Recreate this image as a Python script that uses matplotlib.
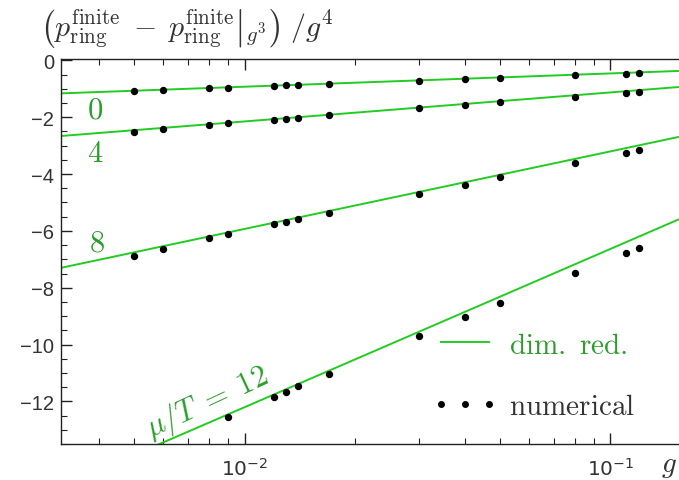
import numpy as np
import matplotlib
matplotlib.use("Agg")
import matplotlib.pyplot as plt
from matplotlib.lines import Line2D
from matplotlib.ticker import MultipleLocator, LogLocator, NullFormatter

plt.rcParams['font.family'] = ['Liberation Sans', 'DejaVu Sans']
plt.rcParams['mathtext.fontset'] = 'cm'

# ---- data ----
g = [0.005, 0.006, 0.008, 0.009, 0.012, 0.013, 0.014, 0.017,
     0.03, 0.04, 0.05, 0.08, 0.11, 0.12]
num_0 = [-1.087, -1.04, -0.98, -0.96, -0.89, -0.875, -0.864, -0.83,
         -0.71, -0.665, -0.62, -0.52, -0.465, -0.45]
num_4 = [-2.51, -2.40, -2.275, -2.215, -2.09, -2.05, -2.02, -1.93,
         -1.69, -1.56, -1.46, -1.28, -1.146, -1.10]
num_8 = [-6.87, -6.62, -6.26, -6.11, -5.77, -5.67, -5.59, -5.355,
         -4.70, -4.37, -4.12, -3.62, -3.27, -3.17]
g_12 = [0.009, 0.012, 0.013, 0.014, 0.017, 0.03, 0.04, 0.05, 0.08, 0.11, 0.12]
num_12 = [-12.55, -11.85, -11.66, -11.47, -11.02, -9.69, -9.04, -8.52,
          -7.49, -6.79, -6.61]

# dimensional-reduction curves (straight in log g), values at the plot edges
line_g = [0.00315, 0.154]
dr_0 = [-1.16, -0.37]
dr_4 = [-2.66, -0.935]
dr_8 = [-7.30, -2.69]
dr_12 = [-15.0, -5.59]

labels = [r'$0$', r'$4$', r'$8$', r'$\mu/T\;=\;12$']
label_pos_g = [0.0039, 0.0039, 0.00396, 0.0079]
label_pos_y = [-1.73, -3.25, -6.40, -12.0]
label_rot = [0, 0, 0, 25]

line_col = '#22cc22'
text_col = '#2a9d2a'
axis_col = '#222222'

fig = plt.figure(figsize=(6.79, 4.81), dpi=100)
ax = fig.add_axes([61/679, 1-445/481, 1-61/679, (445-60)/481])

for dr in (dr_0, dr_4, dr_8, dr_12):
    ax.plot(line_g, dr, color=line_col, lw=1.4, solid_capstyle='butt', zorder=2)
for yy in (num_0, num_4, num_8):
    ax.plot(g, yy, ls='none', marker='o', ms=4.3, color='black', zorder=3)
ax.plot(g_12, num_12, ls='none', marker='o', ms=4.3, color='black', zorder=3)

ax.set_xscale('log')
ax.set_xlim(0.00315, 0.154)
ax.set_ylim(-13.5, 0.05)

for lab, xg, yv, rot in zip(labels, label_pos_g, label_pos_y, label_rot):
    ax.text(xg, yv, lab, color=text_col, fontsize=22, ha='center', va='center',
            rotation=rot, rotation_mode='anchor')

# ticks
ax.set_xticks([0.01, 0.1])
ax.set_xticklabels([r'$10^{-2}$', r'$10^{-1}$'])
for t in ax.get_xticklabels():
    t.set_math_fontfamily('dejavusans')
ax.xaxis.set_minor_locator(LogLocator(base=10, subs=np.arange(2, 10)))
ax.xaxis.set_minor_formatter(NullFormatter())
ax.yaxis.set_major_locator(MultipleLocator(2))
ax.yaxis.set_minor_locator(MultipleLocator(0.5))
ax.tick_params(which='both', direction='in', top=True, right=False,
               colors=axis_col, labelcolor='#333333', labelsize=14.5)
ax.tick_params(which='major', length=8, width=1)
ax.tick_params(which='minor', length=4, width=0.8)
ax.tick_params(axis='x', pad=9)
ax.tick_params(axis='y', pad=5)
for s in ('left', 'bottom', 'top'):
    ax.spines[s].set_color(axis_col)
    ax.spines[s].set_linewidth(1.0)
ax.spines['right'].set_visible(False)

# legend
h_line = Line2D([], [], color=line_col, lw=1.4)
h_dots = Line2D([], [], ls='none', marker='o', ms=4.0, color='black')
leg = ax.legend([h_line, h_dots], [r'$\mathrm{dim.\,\,red.}$', r'$\mathrm{numerical}$'],
                loc='center left', bbox_to_anchor=(0.6, 0.178), frameon=False,
                fontsize=21, numpoints=3, handlelength=2.25, handletextpad=0.4,
                labelspacing=1.15, borderpad=0, borderaxespad=0)
leg.get_texts()[0].set_color(text_col)
leg.get_texts()[1].set_color('#333333')

# axis labels
fig.text(40/679, 1-28/481,
         r'$\left(p_{\mathrm{ring}}^{\mathrm{finite}}\;-\;\left.p_{\mathrm{ring}}^{\mathrm{finite}}\right|_{g^3}\right)\;/g^4$',
         fontsize=21.5, ha='left', va='center', color='#333333')
fig.text(669/679, 1-466/481, r'$g$', fontsize=21, ha='center', va='center', color='#333333')

fig.savefig('out.png', dpi=100)
